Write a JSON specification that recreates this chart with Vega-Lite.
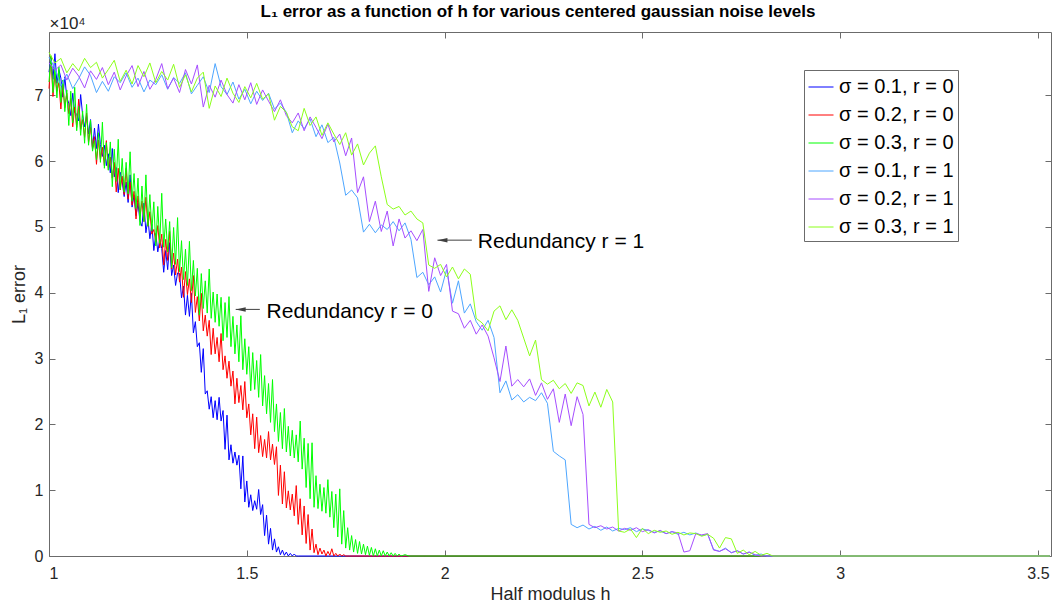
{
"$schema": "https://vega.github.io/schema/vega-lite/v6.json",
"width": 1002, "height": 524,
"autosize": {"type": "none"},
"padding": {"left": 49, "top": 32, "right": 1, "bottom": 49},
"background": "white",
"title": {"text": "L₁ error as a function of h for various centered gaussian noise levels", "fontSize": 17, "fontWeight": "bold", "font": "Liberation Sans", "color": "#000000", "anchor": "middle", "baseline": "alphabetic", "offset": -20, "dx": -12},
"config": {
  "view": {"stroke": null},
  "font": "Liberation Sans",
  "axis": {"domainColor": "#6b6b6b", "tickColor": "#6b6b6b", "tickSize": -6, "labelFontSize": 16, "labelColor": "#262626", "titleFontSize": 18, "titleFontWeight": "normal", "titleColor": "#262626", "grid": false, "labelFont": "Liberation Sans", "titleFont": "Liberation Sans"}
},
"datasets": {
"notes": [
{"h": 1.550, "v": 37100, "t": "Redundancy r = 0"},
{"h": 2.084, "v": 47700, "t": "Redundancy r = 1"}
],
"arrows": [
{"h": 1.472, "h2": 1.533, "v": 37460},
{"h": 1.982, "h2": 2.069, "v": 47980}
],
"curves": [
{"s":"a","h":1.000,"v":73500},{"s":"a","h":1.005,"v":75800},{"s":"a","h":1.010,"v":72400},{"s":"a","h":1.015,"v":76300},{"s":"a","h":1.020,"v":71800},{"s":"a","h":1.025,"v":73900},{"s":"a","h":1.030,"v":72600},{"s":"a","h":1.035,"v":69700},{"s":"a","h":1.040,"v":72800},{"s":"a","h":1.045,"v":69600},
{"s":"a","h":1.050,"v":68800},{"s":"a","h":1.055,"v":66900},{"s":"a","h":1.060,"v":70300},{"s":"a","h":1.065,"v":67400},{"s":"a","h":1.070,"v":67100},{"s":"a","h":1.075,"v":66100},{"s":"a","h":1.080,"v":70100},{"s":"a","h":1.085,"v":67000},{"s":"a","h":1.090,"v":65200},{"s":"a","h":1.095,"v":66900},
{"s":"a","h":1.100,"v":64100},{"s":"a","h":1.105,"v":66300},{"s":"a","h":1.110,"v":61800},{"s":"a","h":1.115,"v":65000},{"s":"a","h":1.120,"v":61900},{"s":"a","h":1.125,"v":65600},{"s":"a","h":1.130,"v":62500},{"s":"a","h":1.135,"v":60700},{"s":"a","h":1.140,"v":62400},{"s":"a","h":1.145,"v":59300},
{"s":"a","h":1.150,"v":61100},{"s":"a","h":1.155,"v":58200},{"s":"a","h":1.160,"v":61900},{"s":"a","h":1.165,"v":57600},{"s":"a","h":1.170,"v":59000},{"s":"a","h":1.175,"v":55200},{"s":"a","h":1.180,"v":58300},{"s":"a","h":1.185,"v":56900},{"s":"a","h":1.190,"v":54600},{"s":"a","h":1.195,"v":56800},
{"s":"a","h":1.200,"v":53700},{"s":"a","h":1.205,"v":57900},{"s":"a","h":1.210,"v":53000},{"s":"a","h":1.215,"v":54800},{"s":"a","h":1.220,"v":51700},{"s":"a","h":1.225,"v":53600},{"s":"a","h":1.230,"v":50900},{"s":"a","h":1.235,"v":50100},{"s":"a","h":1.240,"v":53600},{"s":"a","h":1.245,"v":49100},
{"s":"a","h":1.250,"v":51300},{"s":"a","h":1.255,"v":48200},{"s":"a","h":1.260,"v":50400},{"s":"a","h":1.265,"v":46400},{"s":"a","h":1.270,"v":49000},{"s":"a","h":1.275,"v":46200},{"s":"a","h":1.280,"v":48100},{"s":"a","h":1.285,"v":46700},{"s":"a","h":1.290,"v":43100},{"s":"a","h":1.295,"v":46400},
{"s":"a","h":1.300,"v":43500},{"s":"a","h":1.305,"v":47600},{"s":"a","h":1.310,"v":42600},{"s":"a","h":1.315,"v":44200},{"s":"a","h":1.320,"v":41100},{"s":"a","h":1.325,"v":43000},{"s":"a","h":1.330,"v":42900},{"s":"a","h":1.335,"v":39200},{"s":"a","h":1.340,"v":41000},{"s":"a","h":1.345,"v":36600},
{"s":"a","h":1.350,"v":39600},{"s":"a","h":1.355,"v":36400},{"s":"a","h":1.360,"v":39900},{"s":"a","h":1.365,"v":33900},{"s":"a","h":1.370,"v":35600},{"s":"a","h":1.375,"v":31800},{"s":"a","h":1.380,"v":32400},{"s":"a","h":1.385,"v":27900},{"s":"a","h":1.390,"v":31500},{"s":"a","h":1.395,"v":24600},
{"s":"a","h":1.400,"v":25100},{"s":"a","h":1.405,"v":22300},{"s":"a","h":1.410,"v":24200},{"s":"a","h":1.415,"v":21000},{"s":"a","h":1.420,"v":23600},{"s":"a","h":1.425,"v":20700},{"s":"a","h":1.430,"v":24100},{"s":"a","h":1.435,"v":20500},{"s":"a","h":1.440,"v":22100},{"s":"a","h":1.445,"v":16200},
{"s":"a","h":1.450,"v":21400},{"s":"a","h":1.455,"v":14600},{"s":"a","h":1.460,"v":16900},{"s":"a","h":1.465,"v":14100},{"s":"a","h":1.470,"v":15800},{"s":"a","h":1.475,"v":13800},{"s":"a","h":1.480,"v":15300},{"s":"a","h":1.485,"v":10200},{"s":"a","h":1.490,"v":15200},{"s":"a","h":1.495,"v":8200},
{"s":"a","h":1.500,"v":11400},{"s":"a","h":1.505,"v":7400},{"s":"a","h":1.510,"v":9300},{"s":"a","h":1.515,"v":6900},{"s":"a","h":1.520,"v":8400},{"s":"a","h":1.525,"v":7100},{"s":"a","h":1.530,"v":10100},{"s":"a","h":1.535,"v":6300},{"s":"a","h":1.540,"v":7800},{"s":"a","h":1.545,"v":3100},
{"s":"a","h":1.550,"v":6200},{"s":"a","h":1.555,"v":1800},{"s":"a","h":1.560,"v":4200},{"s":"a","h":1.565,"v":900},{"s":"a","h":1.570,"v":2600},{"s":"a","h":1.575,"v":600},{"s":"a","h":1.580,"v":1400},{"s":"a","h":1.585,"v":200},{"s":"a","h":1.590,"v":900},{"s":"a","h":1.595,"v":100},
{"s":"a","h":1.600,"v":600},{"s":"a","h":1.605,"v":0},{"s":"a","h":1.610,"v":400},{"s":"a","h":1.615,"v":0},{"s":"a","h":1.620,"v":300},{"s":"a","h":1.625,"v":0},{"s":"a","h":1.630,"v":0},{"s":"a","h":3.530,"v":0},
{"s":"b","h":1.000,"v":71000},{"s":"b","h":1.005,"v":75900},{"s":"b","h":1.010,"v":69800},{"s":"b","h":1.015,"v":73200},{"s":"b","h":1.020,"v":70600},{"s":"b","h":1.025,"v":71900},{"s":"b","h":1.030,"v":67900},{"s":"b","h":1.035,"v":71600},{"s":"b","h":1.040,"v":68100},{"s":"b","h":1.045,"v":70300},
{"s":"b","h":1.050,"v":67200},{"s":"b","h":1.055,"v":69500},{"s":"b","h":1.060,"v":65200},{"s":"b","h":1.065,"v":68200},{"s":"b","h":1.070,"v":65100},{"s":"b","h":1.075,"v":69400},{"s":"b","h":1.080,"v":64800},{"s":"b","h":1.085,"v":66300},{"s":"b","h":1.090,"v":63600},{"s":"b","h":1.095,"v":67300},
{"s":"b","h":1.100,"v":62800},{"s":"b","h":1.105,"v":65100},{"s":"b","h":1.110,"v":62000},{"s":"b","h":1.115,"v":63700},{"s":"b","h":1.120,"v":59500},{"s":"b","h":1.125,"v":63200},{"s":"b","h":1.130,"v":60200},{"s":"b","h":1.135,"v":62100},{"s":"b","h":1.140,"v":59300},{"s":"b","h":1.145,"v":63100},
{"s":"b","h":1.150,"v":58700},{"s":"b","h":1.155,"v":60600},{"s":"b","h":1.160,"v":57400},{"s":"b","h":1.165,"v":59800},{"s":"b","h":1.170,"v":55300},{"s":"b","h":1.175,"v":58900},{"s":"b","h":1.180,"v":55600},{"s":"b","h":1.185,"v":57700},{"s":"b","h":1.190,"v":54900},{"s":"b","h":1.195,"v":58900},
{"s":"b","h":1.200,"v":54200},{"s":"b","h":1.205,"v":56800},{"s":"b","h":1.210,"v":53300},{"s":"b","h":1.215,"v":55400},{"s":"b","h":1.220,"v":51200},{"s":"b","h":1.225,"v":54700},{"s":"b","h":1.230,"v":51600},{"s":"b","h":1.235,"v":53900},{"s":"b","h":1.240,"v":50800},{"s":"b","h":1.245,"v":54500},
{"s":"b","h":1.250,"v":50100},{"s":"b","h":1.255,"v":52300},{"s":"b","h":1.260,"v":48900},{"s":"b","h":1.265,"v":49600},{"s":"b","h":1.270,"v":47700},{"s":"b","h":1.275,"v":50200},{"s":"b","h":1.280,"v":46800},{"s":"b","h":1.285,"v":48900},{"s":"b","h":1.290,"v":44200},{"s":"b","h":1.295,"v":48100},
{"s":"b","h":1.300,"v":44900},{"s":"b","h":1.305,"v":49300},{"s":"b","h":1.310,"v":43600},{"s":"b","h":1.315,"v":46000},{"s":"b","h":1.320,"v":42700},{"s":"b","h":1.325,"v":45100},{"s":"b","h":1.330,"v":41600},{"s":"b","h":1.335,"v":43900},{"s":"b","h":1.340,"v":39300},{"s":"b","h":1.345,"v":43200},
{"s":"b","h":1.350,"v":39700},{"s":"b","h":1.355,"v":42100},{"s":"b","h":1.360,"v":38500},{"s":"b","h":1.365,"v":42600},{"s":"b","h":1.370,"v":37000},{"s":"b","h":1.375,"v":39400},{"s":"b","h":1.380,"v":35700},{"s":"b","h":1.385,"v":39900},{"s":"b","h":1.390,"v":34200},{"s":"b","h":1.395,"v":36600},
{"s":"b","h":1.400,"v":33400},{"s":"b","h":1.405,"v":35800},{"s":"b","h":1.410,"v":30600},{"s":"b","h":1.415,"v":34600},{"s":"b","h":1.420,"v":30700},{"s":"b","h":1.425,"v":33200},{"s":"b","h":1.430,"v":29500},{"s":"b","h":1.435,"v":33800},{"s":"b","h":1.440,"v":28300},{"s":"b","h":1.445,"v":30400},
{"s":"b","h":1.450,"v":27000},{"s":"b","h":1.455,"v":29600},{"s":"b","h":1.460,"v":25800},{"s":"b","h":1.465,"v":28100},{"s":"b","h":1.470,"v":23100},{"s":"b","h":1.475,"v":27000},{"s":"b","h":1.480,"v":23300},{"s":"b","h":1.485,"v":25900},{"s":"b","h":1.490,"v":22200},{"s":"b","h":1.495,"v":26500},
{"s":"b","h":1.500,"v":21000},{"s":"b","h":1.505,"v":23100},{"s":"b","h":1.510,"v":18400},{"s":"b","h":1.515,"v":21600},{"s":"b","h":1.520,"v":16300},{"s":"b","h":1.525,"v":21100},{"s":"b","h":1.530,"v":15700},{"s":"b","h":1.535,"v":18300},{"s":"b","h":1.540,"v":15100},{"s":"b","h":1.545,"v":17700},
{"s":"b","h":1.550,"v":14900},{"s":"b","h":1.555,"v":18900},{"s":"b","h":1.560,"v":14600},{"s":"b","h":1.565,"v":17000},{"s":"b","h":1.570,"v":13900},{"s":"b","h":1.575,"v":16600},{"s":"b","h":1.580,"v":9200},{"s":"b","h":1.585,"v":13800},{"s":"b","h":1.590,"v":7900},{"s":"b","h":1.595,"v":12800},
{"s":"b","h":1.600,"v":7300},{"s":"b","h":1.605,"v":9900},{"s":"b","h":1.610,"v":7000},{"s":"b","h":1.615,"v":9400},{"s":"b","h":1.620,"v":6100},{"s":"b","h":1.625,"v":10700},{"s":"b","h":1.630,"v":4800},{"s":"b","h":1.635,"v":8700},{"s":"b","h":1.640,"v":3200},{"s":"b","h":1.645,"v":7600},
{"s":"b","h":1.650,"v":1900},{"s":"b","h":1.655,"v":6300},{"s":"b","h":1.660,"v":900},{"s":"b","h":1.665,"v":4100},{"s":"b","h":1.670,"v":500},{"s":"b","h":1.675,"v":1800},{"s":"b","h":1.680,"v":200},{"s":"b","h":1.685,"v":1200},{"s":"b","h":1.690,"v":300},{"s":"b","h":1.695,"v":900},
{"s":"b","h":1.700,"v":0},{"s":"b","h":1.705,"v":700},{"s":"b","h":1.710,"v":100},{"s":"b","h":1.715,"v":1100},{"s":"b","h":1.720,"v":0},{"s":"b","h":1.725,"v":400},{"s":"b","h":1.730,"v":0},{"s":"b","h":1.735,"v":300},{"s":"b","h":1.740,"v":0},{"s":"b","h":1.745,"v":200},
{"s":"b","h":1.750,"v":0},{"s":"b","h":1.760,"v":0},{"s":"b","h":3.530,"v":0},
{"s":"c","h":1.000,"v":72000},{"s":"c","h":1.005,"v":76000},{"s":"c","h":1.010,"v":70400},{"s":"c","h":1.015,"v":74100},{"s":"c","h":1.020,"v":69600},{"s":"c","h":1.025,"v":74300},{"s":"c","h":1.030,"v":68900},{"s":"c","h":1.035,"v":72300},{"s":"c","h":1.040,"v":67500},{"s":"c","h":1.045,"v":70800},
{"s":"c","h":1.050,"v":65400},{"s":"c","h":1.055,"v":70600},{"s":"c","h":1.060,"v":65800},{"s":"c","h":1.065,"v":71200},{"s":"c","h":1.070,"v":64600},{"s":"c","h":1.075,"v":68300},{"s":"c","h":1.080,"v":63900},{"s":"c","h":1.085,"v":67600},{"s":"c","h":1.090,"v":62700},{"s":"c","h":1.095,"v":68600},
{"s":"c","h":1.100,"v":62400},{"s":"c","h":1.105,"v":66200},{"s":"c","h":1.110,"v":61500},{"s":"c","h":1.115,"v":63100},{"s":"c","h":1.120,"v":60200},{"s":"c","h":1.125,"v":64300},{"s":"c","h":1.130,"v":59800},{"s":"c","h":1.135,"v":65900},{"s":"c","h":1.140,"v":58900},{"s":"c","h":1.145,"v":62800},
{"s":"c","h":1.150,"v":58600},{"s":"c","h":1.155,"v":62900},{"s":"c","h":1.160,"v":56100},{"s":"c","h":1.165,"v":61800},{"s":"c","h":1.170,"v":56900},{"s":"c","h":1.175,"v":63300},{"s":"c","h":1.180,"v":55700},{"s":"c","h":1.185,"v":60400},{"s":"c","h":1.190,"v":55300},{"s":"c","h":1.195,"v":59800},
{"s":"c","h":1.200,"v":55000},{"s":"c","h":1.205,"v":61400},{"s":"c","h":1.210,"v":53900},{"s":"c","h":1.215,"v":58100},{"s":"c","h":1.220,"v":52800},{"s":"c","h":1.225,"v":57400},{"s":"c","h":1.230,"v":50200},{"s":"c","h":1.235,"v":56200},{"s":"c","h":1.240,"v":50800},{"s":"c","h":1.245,"v":57900},
{"s":"c","h":1.250,"v":50100},{"s":"c","h":1.255,"v":54900},{"s":"c","h":1.260,"v":49400},{"s":"c","h":1.265,"v":53800},{"s":"c","h":1.270,"v":47100},{"s":"c","h":1.275,"v":53100},{"s":"c","h":1.280,"v":47500},{"s":"c","h":1.285,"v":55100},{"s":"c","h":1.290,"v":46900},{"s":"c","h":1.295,"v":51200},
{"s":"c","h":1.300,"v":46200},{"s":"c","h":1.305,"v":50800},{"s":"c","h":1.310,"v":43800},{"s":"c","h":1.315,"v":49900},{"s":"c","h":1.320,"v":44300},{"s":"c","h":1.325,"v":51400},{"s":"c","h":1.330,"v":43200},{"s":"c","h":1.335,"v":47900},{"s":"c","h":1.340,"v":42000},{"s":"c","h":1.345,"v":46600},
{"s":"c","h":1.350,"v":41100},{"s":"c","h":1.355,"v":47800},{"s":"c","h":1.360,"v":40300},{"s":"c","h":1.365,"v":44900},{"s":"c","h":1.370,"v":39500},{"s":"c","h":1.375,"v":43700},{"s":"c","h":1.380,"v":36600},{"s":"c","h":1.385,"v":42900},{"s":"c","h":1.390,"v":37600},{"s":"c","h":1.395,"v":41800},
{"s":"c","h":1.400,"v":36900},{"s":"c","h":1.405,"v":43600},{"s":"c","h":1.410,"v":36100},{"s":"c","h":1.415,"v":40100},{"s":"c","h":1.420,"v":35500},{"s":"c","h":1.425,"v":39800},{"s":"c","h":1.430,"v":34900},{"s":"c","h":1.435,"v":39300},{"s":"c","h":1.440,"v":32700},{"s":"c","h":1.445,"v":38500},
{"s":"c","h":1.450,"v":33200},{"s":"c","h":1.455,"v":39400},{"s":"c","h":1.460,"v":31800},{"s":"c","h":1.465,"v":36400},{"s":"c","h":1.470,"v":30700},{"s":"c","h":1.475,"v":35100},{"s":"c","h":1.480,"v":29500},{"s":"c","h":1.485,"v":36500},{"s":"c","h":1.490,"v":28300},{"s":"c","h":1.495,"v":33000},
{"s":"c","h":1.500,"v":27600},{"s":"c","h":1.505,"v":31800},{"s":"c","h":1.510,"v":25100},{"s":"c","h":1.515,"v":30900},{"s":"c","h":1.520,"v":25300},{"s":"c","h":1.525,"v":29700},{"s":"c","h":1.530,"v":24100},{"s":"c","h":1.535,"v":30600},{"s":"c","h":1.540,"v":22800},{"s":"c","h":1.545,"v":27400},
{"s":"c","h":1.550,"v":21600},{"s":"c","h":1.555,"v":26200},{"s":"c","h":1.560,"v":20300},{"s":"c","h":1.565,"v":26800},{"s":"c","h":1.570,"v":18900},{"s":"c","h":1.575,"v":23100},{"s":"c","h":1.580,"v":17400},{"s":"c","h":1.585,"v":21800},{"s":"c","h":1.590,"v":16300},{"s":"c","h":1.595,"v":22400},
{"s":"c","h":1.600,"v":15800},{"s":"c","h":1.605,"v":19700},{"s":"c","h":1.610,"v":15200},{"s":"c","h":1.615,"v":19100},{"s":"c","h":1.620,"v":14900},{"s":"c","h":1.625,"v":18400},{"s":"c","h":1.630,"v":14300},{"s":"c","h":1.635,"v":20500},{"s":"c","h":1.640,"v":13200},{"s":"c","h":1.645,"v":17900},
{"s":"c","h":1.650,"v":10400},{"s":"c","h":1.655,"v":17100},{"s":"c","h":1.660,"v":8700},{"s":"c","h":1.665,"v":17200},{"s":"c","h":1.670,"v":7400},{"s":"c","h":1.675,"v":12200},{"s":"c","h":1.680,"v":7200},{"s":"c","h":1.685,"v":10900},{"s":"c","h":1.690,"v":6800},{"s":"c","h":1.695,"v":10400},
{"s":"c","h":1.700,"v":6500},{"s":"c","h":1.705,"v":11600},{"s":"c","h":1.710,"v":5900},{"s":"c","h":1.715,"v":9800},{"s":"c","h":1.720,"v":4300},{"s":"c","h":1.725,"v":9400},{"s":"c","h":1.730,"v":2900},{"s":"c","h":1.735,"v":10200},{"s":"c","h":1.740,"v":1800},{"s":"c","h":1.745,"v":6900},
{"s":"c","h":1.750,"v":1200},{"s":"c","h":1.755,"v":4300},{"s":"c","h":1.760,"v":900},{"s":"c","h":1.765,"v":3100},{"s":"c","h":1.770,"v":600},{"s":"c","h":1.775,"v":2500},{"s":"c","h":1.780,"v":400},{"s":"c","h":1.785,"v":2200},{"s":"c","h":1.790,"v":300},{"s":"c","h":1.795,"v":1800},
{"s":"c","h":1.800,"v":200},{"s":"c","h":1.805,"v":1500},{"s":"c","h":1.810,"v":100},{"s":"c","h":1.815,"v":1300},{"s":"c","h":1.820,"v":0},{"s":"c","h":1.825,"v":1100},{"s":"c","h":1.830,"v":0},{"s":"c","h":1.835,"v":900},{"s":"c","h":1.840,"v":0},{"s":"c","h":1.845,"v":800},
{"s":"c","h":1.850,"v":0},{"s":"c","h":1.855,"v":600},{"s":"c","h":1.860,"v":0},{"s":"c","h":1.865,"v":500},{"s":"c","h":1.870,"v":0},{"s":"c","h":1.875,"v":400},{"s":"c","h":1.880,"v":0},{"s":"c","h":1.885,"v":300},{"s":"c","h":1.890,"v":0},{"s":"c","h":1.900,"v":200},
{"s":"c","h":1.910,"v":0},{"s":"c","h":1.950,"v":0},{"s":"c","h":3.530,"v":0},
{"s":"d","h":1.000,"v":75800},{"s":"d","h":1.015,"v":74100},{"s":"d","h":1.030,"v":71400},{"s":"d","h":1.045,"v":73200},{"s":"d","h":1.060,"v":71000},{"s":"d","h":1.075,"v":72500},{"s":"d","h":1.090,"v":74300},{"s":"d","h":1.105,"v":73000},{"s":"d","h":1.120,"v":70400},{"s":"d","h":1.135,"v":72100},
{"s":"d","h":1.150,"v":70600},{"s":"d","h":1.165,"v":72800},{"s":"d","h":1.180,"v":71900},{"s":"d","h":1.195,"v":73400},{"s":"d","h":1.210,"v":71200},{"s":"d","h":1.225,"v":72600},{"s":"d","h":1.240,"v":70500},{"s":"d","h":1.255,"v":72300},{"s":"d","h":1.270,"v":71600},{"s":"d","h":1.285,"v":73100},
{"s":"d","h":1.300,"v":70900},{"s":"d","h":1.315,"v":72700},{"s":"d","h":1.330,"v":71800},{"s":"d","h":1.345,"v":73400},{"s":"d","h":1.360,"v":70200},{"s":"d","h":1.375,"v":71500},{"s":"d","h":1.390,"v":72800},{"s":"d","h":1.405,"v":70400},{"s":"d","h":1.420,"v":74800},{"s":"d","h":1.435,"v":71300},
{"s":"d","h":1.450,"v":70100},{"s":"d","h":1.465,"v":72000},{"s":"d","h":1.480,"v":69400},{"s":"d","h":1.495,"v":70900},{"s":"d","h":1.510,"v":68700},{"s":"d","h":1.525,"v":70600},{"s":"d","h":1.540,"v":69200},{"s":"d","h":1.555,"v":70300},{"s":"d","h":1.570,"v":67900},{"s":"d","h":1.585,"v":68800},
{"s":"d","h":1.600,"v":67400},{"s":"d","h":1.615,"v":64300},{"s":"d","h":1.630,"v":66100},{"s":"d","h":1.645,"v":64900},{"s":"d","h":1.660,"v":66400},{"s":"d","h":1.675,"v":63700},{"s":"d","h":1.690,"v":65500},{"s":"d","h":1.705,"v":62800},{"s":"d","h":1.720,"v":63600},{"s":"d","h":1.735,"v":59700},
{"s":"d","h":1.750,"v":54800},{"s":"d","h":1.765,"v":55600},{"s":"d","h":1.780,"v":54400},{"s":"d","h":1.795,"v":49200},{"s":"d","h":1.810,"v":50400},{"s":"d","h":1.825,"v":49100},{"s":"d","h":1.840,"v":50300},{"s":"d","h":1.855,"v":49600},{"s":"d","h":1.870,"v":50800},{"s":"d","h":1.885,"v":49400},
{"s":"d","h":1.900,"v":50600},{"s":"d","h":1.915,"v":48100},{"s":"d","h":1.930,"v":42300},{"s":"d","h":1.945,"v":43100},{"s":"d","h":1.960,"v":41200},{"s":"d","h":1.975,"v":42400},{"s":"d","h":1.990,"v":40100},{"s":"d","h":2.005,"v":43500},{"s":"d","h":2.020,"v":38400},{"s":"d","h":2.035,"v":41800},
{"s":"d","h":2.050,"v":36900},{"s":"d","h":2.065,"v":38300},{"s":"d","h":2.080,"v":35600},{"s":"d","h":2.095,"v":34300},{"s":"d","h":2.110,"v":35800},{"s":"d","h":2.125,"v":33200},{"s":"d","h":2.140,"v":24800},{"s":"d","h":2.155,"v":26600},{"s":"d","h":2.170,"v":23700},{"s":"d","h":2.185,"v":24500},
{"s":"d","h":2.200,"v":23400},{"s":"d","h":2.215,"v":24100},{"s":"d","h":2.230,"v":23600},{"s":"d","h":2.245,"v":24800},{"s":"d","h":2.260,"v":23200},{"s":"d","h":2.275,"v":15900},{"s":"d","h":2.290,"v":15200},{"s":"d","h":2.305,"v":14600},{"s":"d","h":2.320,"v":4800},{"s":"d","h":2.335,"v":4300},
{"s":"d","h":2.350,"v":4700},{"s":"d","h":2.365,"v":4100},{"s":"d","h":2.380,"v":4500},{"s":"d","h":2.395,"v":3900},{"s":"d","h":2.410,"v":4400},{"s":"d","h":2.425,"v":3800},{"s":"d","h":2.440,"v":4200},{"s":"d","h":2.455,"v":4000},{"s":"d","h":2.470,"v":4300},{"s":"d","h":2.485,"v":3700},
{"s":"d","h":2.500,"v":4100},{"s":"d","h":2.515,"v":3900},{"s":"d","h":2.530,"v":3600},{"s":"d","h":2.545,"v":3800},{"s":"d","h":2.560,"v":3400},{"s":"d","h":2.575,"v":3700},{"s":"d","h":2.590,"v":3300},{"s":"d","h":2.605,"v":3600},{"s":"d","h":2.620,"v":3200},{"s":"d","h":2.635,"v":3500},
{"s":"d","h":2.650,"v":3100},{"s":"d","h":2.665,"v":3300},{"s":"d","h":2.680,"v":1000},{"s":"d","h":2.695,"v":700},{"s":"d","h":2.710,"v":1200},{"s":"d","h":2.725,"v":500},{"s":"d","h":2.740,"v":800},{"s":"d","h":2.755,"v":300},{"s":"d","h":2.770,"v":600},{"s":"d","h":2.785,"v":100},
{"s":"d","h":2.800,"v":300},{"s":"d","h":2.815,"v":0},{"s":"d","h":3.530,"v":0},
{"s":"e","h":1.000,"v":74900},{"s":"e","h":1.015,"v":73800},{"s":"e","h":1.030,"v":74600},{"s":"e","h":1.045,"v":72300},{"s":"e","h":1.060,"v":74100},{"s":"e","h":1.075,"v":72900},{"s":"e","h":1.090,"v":71100},{"s":"e","h":1.105,"v":73700},{"s":"e","h":1.120,"v":72400},{"s":"e","h":1.135,"v":74200},
{"s":"e","h":1.150,"v":71600},{"s":"e","h":1.165,"v":73500},{"s":"e","h":1.180,"v":70800},{"s":"e","h":1.195,"v":72900},{"s":"e","h":1.210,"v":74500},{"s":"e","h":1.225,"v":71300},{"s":"e","h":1.240,"v":73600},{"s":"e","h":1.255,"v":70900},{"s":"e","h":1.270,"v":72400},{"s":"e","h":1.285,"v":74800},
{"s":"e","h":1.300,"v":71000},{"s":"e","h":1.315,"v":72600},{"s":"e","h":1.330,"v":70400},{"s":"e","h":1.345,"v":73900},{"s":"e","h":1.360,"v":71700},{"s":"e","h":1.375,"v":74600},{"s":"e","h":1.390,"v":68200},{"s":"e","h":1.405,"v":71500},{"s":"e","h":1.420,"v":69700},{"s":"e","h":1.435,"v":72300},
{"s":"e","h":1.450,"v":70100},{"s":"e","h":1.465,"v":68800},{"s":"e","h":1.480,"v":71600},{"s":"e","h":1.495,"v":69300},{"s":"e","h":1.510,"v":71900},{"s":"e","h":1.525,"v":68600},{"s":"e","h":1.540,"v":70800},{"s":"e","h":1.555,"v":69100},{"s":"e","h":1.570,"v":67500},{"s":"e","h":1.585,"v":69300},
{"s":"e","h":1.600,"v":66900},{"s":"e","h":1.615,"v":65800},{"s":"e","h":1.630,"v":67300},{"s":"e","h":1.645,"v":64600},{"s":"e","h":1.660,"v":66700},{"s":"e","h":1.675,"v":65100},{"s":"e","h":1.690,"v":63400},{"s":"e","h":1.705,"v":65600},{"s":"e","h":1.720,"v":62900},{"s":"e","h":1.735,"v":64100},
{"s":"e","h":1.750,"v":60800},{"s":"e","h":1.765,"v":63500},{"s":"e","h":1.780,"v":55200},{"s":"e","h":1.795,"v":57600},{"s":"e","h":1.810,"v":50800},{"s":"e","h":1.825,"v":53900},{"s":"e","h":1.840,"v":49300},{"s":"e","h":1.855,"v":52400},{"s":"e","h":1.870,"v":47100},{"s":"e","h":1.885,"v":51200},
{"s":"e","h":1.900,"v":48300},{"s":"e","h":1.915,"v":49400},{"s":"e","h":1.930,"v":47900},{"s":"e","h":1.945,"v":49600},{"s":"e","h":1.960,"v":40200},{"s":"e","h":1.975,"v":45300},{"s":"e","h":1.990,"v":42600},{"s":"e","h":2.005,"v":44300},{"s":"e","h":2.020,"v":37200},{"s":"e","h":2.035,"v":36800},
{"s":"e","h":2.050,"v":34600},{"s":"e","h":2.065,"v":35800},{"s":"e","h":2.080,"v":33700},{"s":"e","h":2.095,"v":35100},{"s":"e","h":2.110,"v":33400},{"s":"e","h":2.125,"v":30100},{"s":"e","h":2.140,"v":26500},{"s":"e","h":2.155,"v":31900},{"s":"e","h":2.170,"v":25800},{"s":"e","h":2.185,"v":26800},
{"s":"e","h":2.200,"v":25700},{"s":"e","h":2.215,"v":26900},{"s":"e","h":2.230,"v":24400},{"s":"e","h":2.245,"v":26300},{"s":"e","h":2.260,"v":23800},{"s":"e","h":2.275,"v":25400},{"s":"e","h":2.290,"v":20300},{"s":"e","h":2.305,"v":24600},{"s":"e","h":2.320,"v":19800},{"s":"e","h":2.335,"v":24200},
{"s":"e","h":2.350,"v":21500},{"s":"e","h":2.365,"v":4800},{"s":"e","h":2.380,"v":4300},{"s":"e","h":2.395,"v":4600},{"s":"e","h":2.410,"v":4100},{"s":"e","h":2.425,"v":4400},{"s":"e","h":2.440,"v":3800},{"s":"e","h":2.455,"v":4200},{"s":"e","h":2.470,"v":3900},{"s":"e","h":2.485,"v":4300},
{"s":"e","h":2.500,"v":3700},{"s":"e","h":2.515,"v":4000},{"s":"e","h":2.530,"v":3500},{"s":"e","h":2.545,"v":3900},{"s":"e","h":2.560,"v":3400},{"s":"e","h":2.575,"v":3700},{"s":"e","h":2.590,"v":3500},{"s":"e","h":2.605,"v":600},{"s":"e","h":2.620,"v":800},{"s":"e","h":2.635,"v":3400},
{"s":"e","h":2.650,"v":3200},{"s":"e","h":2.665,"v":3400},{"s":"e","h":2.680,"v":900},{"s":"e","h":2.695,"v":700},{"s":"e","h":2.710,"v":1100},{"s":"e","h":2.725,"v":500},{"s":"e","h":2.740,"v":800},{"s":"e","h":2.755,"v":300},{"s":"e","h":2.770,"v":600},{"s":"e","h":2.785,"v":200},
{"s":"e","h":2.800,"v":0},{"s":"e","h":3.530,"v":0},
{"s":"f","h":1.000,"v":76500},{"s":"f","h":1.015,"v":74900},{"s":"f","h":1.030,"v":75600},{"s":"f","h":1.045,"v":73400},{"s":"f","h":1.060,"v":74800},{"s":"f","h":1.075,"v":73700},{"s":"f","h":1.090,"v":75600},{"s":"f","h":1.105,"v":74200},{"s":"f","h":1.120,"v":75000},{"s":"f","h":1.135,"v":72600},
{"s":"f","h":1.150,"v":73900},{"s":"f","h":1.165,"v":75300},{"s":"f","h":1.180,"v":72100},{"s":"f","h":1.195,"v":73800},{"s":"f","h":1.210,"v":71700},{"s":"f","h":1.225,"v":74500},{"s":"f","h":1.240,"v":72800},{"s":"f","h":1.255,"v":74900},{"s":"f","h":1.270,"v":71900},{"s":"f","h":1.285,"v":73600},
{"s":"f","h":1.300,"v":72300},{"s":"f","h":1.315,"v":74700},{"s":"f","h":1.330,"v":71200},{"s":"f","h":1.345,"v":73100},{"s":"f","h":1.360,"v":70500},{"s":"f","h":1.375,"v":72600},{"s":"f","h":1.390,"v":73500},{"s":"f","h":1.405,"v":68000},{"s":"f","h":1.420,"v":71400},{"s":"f","h":1.435,"v":69800},
{"s":"f","h":1.450,"v":72600},{"s":"f","h":1.465,"v":70300},{"s":"f","h":1.480,"v":68900},{"s":"f","h":1.495,"v":71300},{"s":"f","h":1.510,"v":69600},{"s":"f","h":1.525,"v":71800},{"s":"f","h":1.540,"v":69400},{"s":"f","h":1.555,"v":70200},{"s":"f","h":1.570,"v":66200},{"s":"f","h":1.585,"v":68300},
{"s":"f","h":1.600,"v":67400},{"s":"f","h":1.615,"v":65200},{"s":"f","h":1.630,"v":64600},{"s":"f","h":1.645,"v":68000},{"s":"f","h":1.660,"v":65400},{"s":"f","h":1.675,"v":66700},{"s":"f","h":1.690,"v":63900},{"s":"f","h":1.705,"v":65800},{"s":"f","h":1.720,"v":64100},{"s":"f","h":1.735,"v":62500},
{"s":"f","h":1.750,"v":64300},{"s":"f","h":1.765,"v":60900},{"s":"f","h":1.780,"v":62600},{"s":"f","h":1.795,"v":59400},{"s":"f","h":1.810,"v":61200},{"s":"f","h":1.825,"v":62300},{"s":"f","h":1.840,"v":57600},{"s":"f","h":1.855,"v":53400},{"s":"f","h":1.870,"v":52700},{"s":"f","h":1.885,"v":53100},
{"s":"f","h":1.900,"v":51800},{"s":"f","h":1.915,"v":52400},{"s":"f","h":1.930,"v":51200},{"s":"f","h":1.945,"v":50600},{"s":"f","h":1.960,"v":44200},{"s":"f","h":1.975,"v":43700},{"s":"f","h":1.990,"v":44300},{"s":"f","h":2.005,"v":42400},{"s":"f","h":2.020,"v":43900},{"s":"f","h":2.035,"v":42100},
{"s":"f","h":2.050,"v":43600},{"s":"f","h":2.065,"v":42800},{"s":"f","h":2.080,"v":36100},{"s":"f","h":2.095,"v":35400},{"s":"f","h":2.110,"v":34200},{"s":"f","h":2.125,"v":37200},{"s":"f","h":2.140,"v":38000},{"s":"f","h":2.155,"v":35900},{"s":"f","h":2.170,"v":37400},{"s":"f","h":2.185,"v":35800},
{"s":"f","h":2.200,"v":33100},{"s":"f","h":2.215,"v":30400},{"s":"f","h":2.230,"v":32800},{"s":"f","h":2.245,"v":26800},{"s":"f","h":2.260,"v":26100},{"s":"f","h":2.275,"v":26700},{"s":"f","h":2.290,"v":25400},{"s":"f","h":2.305,"v":26200},{"s":"f","h":2.320,"v":24700},{"s":"f","h":2.335,"v":26300},
{"s":"f","h":2.350,"v":25900},{"s":"f","h":2.365,"v":22800},{"s":"f","h":2.380,"v":24900},{"s":"f","h":2.395,"v":22600},{"s":"f","h":2.410,"v":25300},{"s":"f","h":2.425,"v":23400},{"s":"f","h":2.440,"v":3800},{"s":"f","h":2.455,"v":3600},{"s":"f","h":2.470,"v":4100},{"s":"f","h":2.485,"v":2800},
{"s":"f","h":2.500,"v":4200},{"s":"f","h":2.515,"v":3400},{"s":"f","h":2.530,"v":3900},{"s":"f","h":2.545,"v":3600},{"s":"f","h":2.560,"v":3800},{"s":"f","h":2.575,"v":3300},{"s":"f","h":2.590,"v":3600},{"s":"f","h":2.605,"v":3200},{"s":"f","h":2.620,"v":3500},{"s":"f","h":2.635,"v":3400},
{"s":"f","h":2.650,"v":3000},{"s":"f","h":2.665,"v":3300},{"s":"f","h":2.680,"v":2700},{"s":"f","h":2.695,"v":1200},{"s":"f","h":2.710,"v":2800},{"s":"f","h":2.725,"v":2600},{"s":"f","h":2.740,"v":400},{"s":"f","h":2.755,"v":900},{"s":"f","h":2.770,"v":200},{"s":"f","h":2.785,"v":700},
{"s":"f","h":2.800,"v":100},{"s":"f","h":2.815,"v":400},{"s":"f","h":2.830,"v":0},{"s":"f","h":3.530,"v":0}
]
},
"layer": [
{
  "data": {"name": "curves"},
  "mark": {"type": "line", "strokeWidth": 1},
  "encoding": {
    "x": {"field": "h", "type": "quantitative", "scale": {"domain": [1, 3.533], "nice": false, "zero": false},
          "axis": {"orient": "bottom", "values": [1, 1.5, 2, 2.5, 3, 3.5], "format": "~g", "labelPadding": 15, "title": "Half modulus h", "titlePadding": 4}},
    "y": {"field": "v", "type": "quantitative", "scale": {"domain": [0, 79600], "nice": false, "zero": true},
          "axis": {"orient": "left", "values": [0, 10000, 20000, 30000, 40000, 50000, 60000, 70000], "labelExpr": "datum.value/10000", "labelPadding": 12, "title": "L₁ error", "titlePadding": 6}},
    "color": {"field": "s", "type": "nominal",
      "scale": {"domain": ["a", "b", "c", "d", "e", "f"], "range": ["#0000ff", "#ff0000", "#00ff00", "#4da6ff", "#a64dff", "#8cff1a"]},
      "legend": {"orient": "none", "legendX": 755, "legendY": 38, "title": null, "symbolType": "stroke", "symbolSize": 625, "symbolStrokeWidth": 1,
        "labelFontSize": 20, "labelColor": "#000000", "labelFont": "Liberation Sans", "labelOffset": 5, "labelLimit": 300,
        "padding": 4, "strokeColor": "#6b6b6b", "fillColor": "#ffffff", "rowPadding": 5, "symbolOffset": 0,
        "labelExpr": "datum.label=='a'?'σ = 0.1, r = 0':datum.label=='b'?'σ = 0.2, r = 0':datum.label=='c'?'σ = 0.3, r = 0':datum.label=='d'?'σ = 0.1, r = 1':datum.label=='e'?'σ = 0.2, r = 1':'σ = 0.3, r = 1'"}}
  }
},
{
  "data": {"name": "notes"},
  "mark": {"type": "text", "align": "left", "baseline": "middle", "fontSize": 21, "color": "#000000", "font": "Liberation Sans"},
  "encoding": {
    "x": {"field": "h", "type": "quantitative", "scale": {"domain": [1, 3.533], "nice": false, "zero": false},
          "axis": {"orient": "top", "values": [1, 1.5, 2, 2.5, 3, 3.5], "labels": false, "title": "×10⁴", "titleX": 0, "titleY": -4, "titleAngle": 0, "titleAlign": "left", "titleBaseline": "alphabetic", "titleFontSize": 17, "titleColor": "#262626"}},
    "y": {"field": "v", "type": "quantitative", "scale": {"domain": [0, 79600], "nice": false, "zero": true},
          "axis": {"orient": "right", "values": [0, 10000, 20000, 30000, 40000, 50000, 60000, 70000], "labels": false, "title": null}},
    "text": {"field": "t", "type": "nominal"}
  }
},
{
  "data": {"name": "arrows"},
  "mark": {"type": "rule", "color": "#404040", "strokeWidth": 1},
  "encoding": {
    "x": {"field": "h", "type": "quantitative", "scale": {"domain": [1, 3.533], "nice": false, "zero": false}, "axis": null},
    "x2": {"field": "h2"},
    "y": {"field": "v", "type": "quantitative", "scale": {"domain": [0, 79600], "nice": false, "zero": true}, "axis": null}
  }
},
{
  "data": {"name": "arrows"},
  "mark": {"type": "point", "shape": "M0,0L2,-0.45L2,0.45Z", "filled": true, "color": "#404040", "size": 100, "opacity": 1},
  "encoding": {
    "x": {"field": "h", "type": "quantitative", "scale": {"domain": [1, 3.533], "nice": false, "zero": false}, "axis": null},
    "y": {"field": "v", "type": "quantitative", "scale": {"domain": [0, 79600], "nice": false, "zero": true}, "axis": null}
  }
}
],
"resolve": {"axis": {"x": "independent", "y": "independent"}}
}
